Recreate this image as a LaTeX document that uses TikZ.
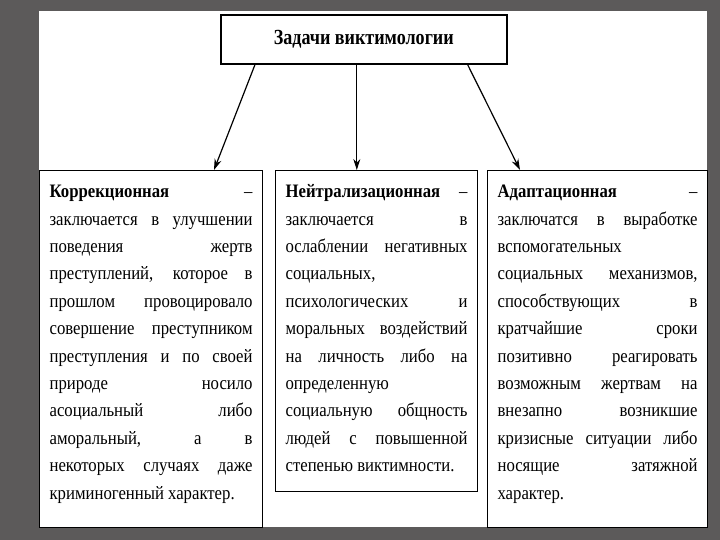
\documentclass[tikz,border=0pt]{standalone}
\usepackage{fontspec}
\newfontfamily\bodyfont{Liberation Serif}[FakeStretch=0.88]
\newfontfamily\headfont{Liberation Serif}[FakeStretch=0.84]
\usepackage{tikz}
\usetikzlibrary{arrows.meta, positioning, calc}
\definecolor{slidegray}{RGB}{92, 90, 90}
\newcommand{\coltext}[3]{\parbox[c][#1][t]{#2}{\tolerance=10000\hbadness=10000\hyphenpenalty=10000\rule{0pt}{27pt}#3}}

\begin{document}
\begin{tikzpicture}[x=1pt, y=-1pt, >={Stealth[length=11pt, width=7pt]},
    titlebox/.style={draw, line width=1.6pt, anchor=north west, minimum width=286pt, minimum height=49pt, inner sep=0pt, font=\headfont\bfseries\fontsize{21.5}{24}\selectfont},
    taskframe/.style={draw, line width=1.2pt, anchor=north west, inner xsep=10pt, inner ysep=0pt, font=\bodyfont\fontsize{19}{27.4}\selectfont},
    arrowline/.style={->, line width=1.2pt}]
    \fill[slidegray] (0,0) rectangle (720,540);
    \fill[white] (39,11) rectangle (707,527);
    \node[titlebox] (title) at (220,14) {Задачи виктимологии};
    % three tasks
    \node[taskframe] (korr) at (39,170) {\coltext{357pt}{203pt}{\textbf{Коррекционная} –\linebreak заключается в улучшении\linebreak поведения жертв\linebreak преступлений, которое в\linebreak прошлом провоцировало\linebreak совершение преступником\linebreak преступления и по своей\linebreak природе носило\linebreak асоциальный либо\linebreak аморальный, а в\linebreak некоторых случаях даже\linebreak криминогенный характер.}};
    \node[taskframe] (neut) at (275,170) {\coltext{321pt}{182pt}{\textbf{Нейтрализационная} –\linebreak заключается в\linebreak ослаблении негативных\linebreak социальных,\linebreak психологических и\linebreak моральных воздействий\linebreak на личность либо на\linebreak определенную\linebreak социальную общность\linebreak людей с повышенной\linebreak степенью виктимности.}};
    \node[taskframe] (adapt) at (487,170) {\coltext{357pt}{200pt}{\textbf{Адаптационная} –\linebreak заключатся в выработке\linebreak вспомогательных\linebreak социальных механизмов,\linebreak способствующих в\linebreak кратчайшие сроки\linebreak позитивно реагировать\linebreak возможным жертвам на\linebreak внезапно возникшие\linebreak кризисные ситуации либо\linebreak носящие затяжной\linebreak характер.}};
    % arrows
    \coordinate (midtop) at ([xshift=-7pt]title.south);
    \draw[arrowline] ([xshift=35pt]title.south west) -- ([xshift=175pt]korr.north west);
    \draw[arrowline] (midtop) -- (midtop |- neut.north);
    \draw[arrowline] ([xshift=-40pt]title.south east) -- ([xshift=33pt]adapt.north west);
\end{tikzpicture}
\end{document}
